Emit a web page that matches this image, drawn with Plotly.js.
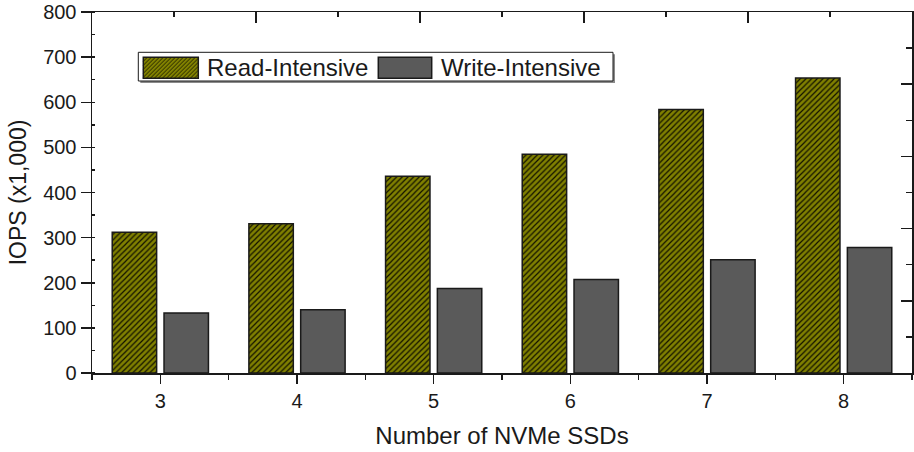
<!DOCTYPE html>
<html>
<head>
<meta charset="utf-8">
<script src="https://cdn.plot.ly/plotly-3.0.1.min.js"></script>
<style>html,body{margin:0;padding:0;background:#fff;}#chart{width:914px;height:452px;}</style>
</head>
<body>
<div id="chart"></div>
<script>
// ---- data ----
const nvmeCounts = [3, 4, 5, 6, 7, 8];
const readIntensive = [312, 331, 436, 485, 584, 654];
const writeIntensive = [133, 140, 187, 207, 251, 278];
const seriesNames = ['Read-Intensive', 'Write-Intensive'];
const yTicks = [0, 100, 200, 300, 400, 500, 600, 700, 800];

// ---- layout helpers (pixel -> paper) ----
const L = 92, R = 2, T = 12, B = 79, W = 914, H = 452;
const PW = W - L - R, PH = H - T - B;
const px = x => (x - L) / PW;
const py = y => (T + PH - y) / PH;

const FONT = '"Liberation Sans", Arial, sans-serif';
const INK = '#1a1a1a';
const OLIVE = '#808000';
const GREY = '#5a5a5a';

function hatchPath(x0, y0, x1, y1, step) {
  const h = y1 - y0;
  let d = '';
  for (let c = x0 - h; c < x1; c += step) {
    const t0 = Math.max(0, x0 - c), t1 = Math.min(h, x1 - c);
    if (t1 <= t0) continue;
    d += 'M' + px(c + t0).toFixed(5) + ',' + py(y1 - t0).toFixed(5) +
         'L' + px(c + t1).toFixed(5) + ',' + py(y1 - t1).toFixed(5);
  }
  return d;
}

const traces = [
  {
    type: 'bar', name: seriesNames[0], x: nvmeCounts, y: readIntensive,
    offset: -0.352, width: 0.325, showlegend: false,
    marker: { color: OLIVE, line: { color: INK, width: 1.5 },
      pattern: { shape: '/', fgcolor: '#111100', bgcolor: OLIVE, size: 4, solidity: 0.3, fillmode: 'replace' } }
  },
  {
    type: 'bar', name: seriesNames[1], x: nvmeCounts, y: writeIntensive,
    offset: 0.027, width: 0.325, showlegend: false,
    marker: { color: GREY, line: { color: INK, width: 1.5 } }
  },
  { type: 'scatter', x: [], y: [], xaxis: 'x2', yaxis: 'y2', showlegend: false, hoverinfo: 'skip' }
];

// legend drawn as shapes
const lg = { x0: 138.3, y0: 52.3, x1: 613, y1: 81 };
const sw1 = { x0: 143.3, y0: 57.3, x1: 198.3, y1: 78.3 };
const sw2 = { x0: 378.3, y0: 57.3, x1: 431.7, y1: 78.3 };
const shapes = [
  { type: 'rect', xref: 'paper', yref: 'paper', x0: px(lg.x0 + 2), x1: px(lg.x1 + 2), y0: py(lg.y1 + 2), y1: py(lg.y0 + 2), fillcolor: '#8a8a8a', line: { width: 0 } },
  { type: 'rect', xref: 'paper', yref: 'paper', x0: px(lg.x0), x1: px(lg.x1), y0: py(lg.y1), y1: py(lg.y0), fillcolor: '#ffffff', line: { color: INK, width: 1 } },
  { type: 'rect', xref: 'paper', yref: 'paper', x0: px(sw1.x0), x1: px(sw1.x1), y0: py(sw1.y1), y1: py(sw1.y0), fillcolor: OLIVE, line: { width: 0 } },
  { type: 'path', xref: 'paper', yref: 'paper', path: hatchPath(sw1.x0, sw1.y0, sw1.x1, sw1.y1, 4), line: { color: '#111100', width: 0.8 } },
  { type: 'rect', xref: 'paper', yref: 'paper', x0: px(sw1.x0), x1: px(sw1.x1), y0: py(sw1.y1), y1: py(sw1.y0), fillcolor: 'rgba(0,0,0,0)', line: { color: INK, width: 1.5 } },
  { type: 'rect', xref: 'paper', yref: 'paper', x0: px(sw2.x0), x1: px(sw2.x1), y0: py(sw2.y1), y1: py(sw2.y0), fillcolor: GREY, line: { color: INK, width: 1.5 } }
];
const annotations = [
  { xref: 'paper', yref: 'paper', x: px(205), y: py(68), xanchor: 'left', yanchor: 'middle', text: seriesNames[0], showarrow: false, font: { family: FONT, size: 24, color: INK } },
  { xref: 'paper', yref: 'paper', x: px(439), y: py(68), xanchor: 'left', yanchor: 'middle', text: seriesNames[1], showarrow: false, font: { family: FONT, size: 24, color: INK } }
];

const layout = {
  width: W, height: H,
  margin: { l: L, r: R, t: T, b: B, pad: 0 },
  paper_bgcolor: '#ffffff', plot_bgcolor: '#ffffff',
  font: { family: FONT, size: 20, color: INK },
  showlegend: false,
  xaxis: {
    range: [2.5, 8.5], tickvals: nvmeCounts, ticktext: nvmeCounts.map(String),
    ticks: 'outside', ticklen: 9, tickwidth: 1.5, tickcolor: INK,
    minor: { tickvals: [2.5, 3.5, 4.5, 5.5, 6.5, 7.5, 8.5], ticks: 'outside', ticklen: 5, tickwidth: 1.5, tickcolor: INK },
    showline: true, linewidth: 1.5, linecolor: INK, showgrid: false, zeroline: false,
    tickfont: { family: FONT, size: 20, color: INK },
    title: { text: 'Number of NVMe SSDs', font: { family: FONT, size: 24, color: INK }, standoff: 16 }
  },
  yaxis: {
    range: [0, 800], tickvals: yTicks, ticktext: yTicks.map(String),
    ticks: 'outside', ticklen: 10, tickwidth: 1.5, tickcolor: INK,
    minor: { dtick: 50, ticks: 'inside', ticklen: 3, tickwidth: 1.5, tickcolor: INK },
    showline: true, linewidth: 1.5, linecolor: INK, showgrid: false, zeroline: false,
    tickfont: { family: FONT, size: 20, color: INK }, ticklabelstandoff: 0,
    title: { text: 'IOPS (x1,000)', font: { family: FONT, size: 23, color: INK }, standoff: 10 }
  },
  xaxis2: {
    overlaying: 'x', side: 'top', anchor: 'y', range: [0, 1], tickvals: [0, 0.2, 0.4, 0.6, 0.8, 1],
    ticks: 'inside', ticklen: 11, tickwidth: 1.5, tickcolor: INK, showticklabels: false,
    minor: { tickvals: [0.1, 0.3, 0.5, 0.7, 0.9], ticks: 'inside', ticklen: 5, tickwidth: 1.5, tickcolor: INK },
    showline: true, linewidth: 1.5, linecolor: INK, showgrid: false, zeroline: false
  },
  yaxis2: {
    overlaying: 'y', side: 'right', anchor: 'x', range: [0, 1], tickvals: [0, 0.2, 0.4, 0.6, 0.8, 1],
    ticks: 'inside', ticklen: 11, tickwidth: 1.5, tickcolor: INK, showticklabels: false,
    minor: { tickvals: [0.1, 0.3, 0.5, 0.7, 0.9], ticks: 'inside', ticklen: 6, tickwidth: 1.5, tickcolor: INK },
    showline: true, linewidth: 1.5, linecolor: INK, showgrid: false, zeroline: false
  },
  shapes: shapes,
  annotations: annotations
};

Plotly.newPlot('chart', traces, layout, { displayModeBar: false, staticPlot: true });
</script>
</body>
</html>
